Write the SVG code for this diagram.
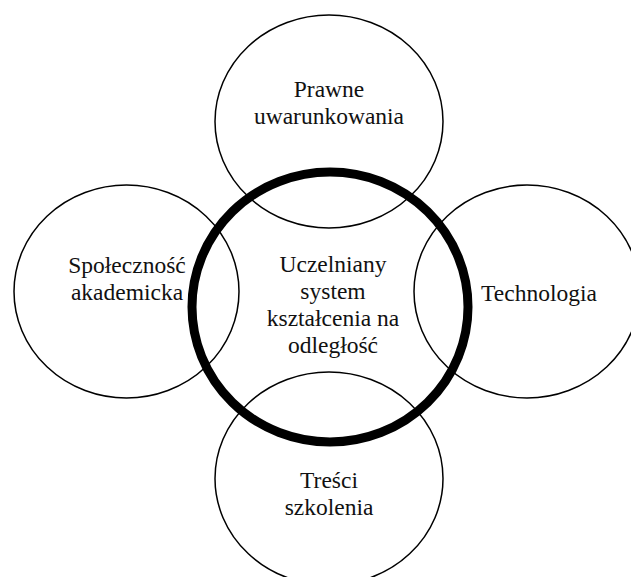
<svg xmlns="http://www.w3.org/2000/svg" width="631" height="577" viewBox="0 0 631 577">
<style>
.c{fill:none;stroke:#000;stroke-width:1.5}
.main{fill:none;stroke:#000;stroke-width:9}
.t{font-family:'Liberation Serif','Tinos','Noto Serif','DejaVu Serif','FreeSerif','Times New Roman',Times,serif;font-size:23.5px;fill:#111;text-anchor:middle}
</style>
<rect width="631" height="577" fill="#fff"/>
<g id="node-prawne">
<ellipse class="c" cx="329" cy="121.5" rx="114" ry="106.5"/>
<text class="t" x="329" y="97">Prawne</text>
<text class="t" x="329" y="124">uwarunkowania</text>
</g>
<g id="node-spolecznosc">
<ellipse class="c" cx="126.5" cy="291.5" rx="112.5" ry="106.5"/>
<text class="t" x="127" y="273">Społeczność</text>
<text class="t" x="127" y="300">akademicka</text>
</g>
<g id="node-technologia">
<ellipse class="c" cx="527" cy="291.5" rx="113" ry="106.5"/>
<text class="t" x="539" y="301">Technologia</text>
</g>
<g id="node-tresci">
<ellipse class="c" cx="329" cy="478.5" rx="114" ry="106.5"/>
<text class="t" x="329" y="488">Treści</text>
<text class="t" x="329" y="515">szkolenia</text>
</g>
<g id="node-system">
<ellipse class="main" cx="330" cy="307" rx="138" ry="135"/>
<text class="t" x="333" y="272">Uczelniany</text>
<text class="t" x="333" y="299">system</text>
<text class="t" x="333" y="326">kształcenia na</text>
<text class="t" x="333" y="353">odległość</text>
</g>
<g id="connectors"></g>
</svg>
